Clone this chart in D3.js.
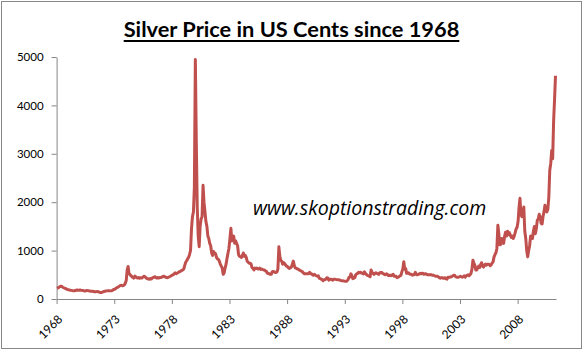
<!DOCTYPE html>
<html>
<head>
<meta charset="utf-8">
<script src="https://cdn.jsdelivr.net/npm/d3@7"></script>
<style>
  body { margin: 0; background: #fff; }
  svg { display: block; }
</style>
</head>
<body>
<svg id="mainsvg" width="584" height="352"></svg>
<script>
const svg = d3.select('#mainsvg');
const width = +svg.attr('width');
const height = +svg.attr('height');
const margin = {top: 57, right: 28, bottom: 53, left: 56.6};

// data: monthly silver price in US cents, one row per year
const years = [1968, 1969, 1970, 1971, 1972, 1973, 1974, 1975, 1976, 1977, 1978, 1979,
  1980, 1981, 1982, 1983, 1984, 1985, 1986, 1987, 1988, 1989, 1990, 1991, 1992, 1993,
  1994, 1995, 1996, 1997, 1998, 1999, 2000, 2001, 2002, 2003, 2004, 2005, 2006, 2007,
  2008, 2009, 2010, 2011];
const cents = [
  [218,228,242,256,265,258,244,232,224,215,203,196],
  [190,186,181,178,173,168,170,176,181,186,183,180],
  [186,181,178,175,170,166,170,175,173,170,165,162],
  [161,158,155,150,148,152,156,150,141,133,135,140],
  [150,156,162,166,168,171,173,170,168,172,181,196],
  [202,216,232,242,252,266,281,286,272,276,292,322],
  [380,600,670,525,505,482,462,444,432,472,460,442],
  [432,442,430,440,432,444,462,470,452,432,420,412],
  [410,422,412,432,442,452,460,442,432,442,432,444],
  [442,452,462,470,462,452,442,440,450,460,470,482],
  [492,502,522,542,522,532,542,562,562,582,592,602],
  [620,700,760,790,830,860,920,1000,1450,1700,1800,2300],
  [4950,3200,1900,1300,1080,1500,1650,1700,2350,2000,1800,1600],
  [1500,1300,1250,1150,1100,950,900,980,950,940,860,830],
  [820,780,720,680,640,510,540,640,720,840,950,1050],
  [1250,1460,1200,1250,1300,1150,1200,1150,1100,920,880,880],
  [860,900,950,880,900,860,780,760,740,740,720,650],
  [630,600,640,630,640,620,620,640,610,620,610,600],
  [600,580,570,530,530,520,510,510,560,570,560,550],
  [550,560,620,1077,880,800,780,720,750,730,700,680],
  [670,640,630,650,660,720,782,690,640,640,620,620],
  [600,590,580,570,550,530,520,520,520,520,530,550],
  [520,520,500,490,510,490,480,470,480,430,420,410],
  [400,380,400,400,410,440,430,390,410,410,400,390],
  [410,410,405,400,400,400,395,385,378,375,375,370],
  [365,365,375,400,450,450,520,480,420,430,440,500],
  [520,530,550,540,550,540,530,520,560,530,510,490],
  [480,470,460,600,550,530,510,530,540,530,520,510],
  [540,550,550,530,520,510,500,520,510,480,490,490],
  [480,500,510,470,470,470,440,450,460,480,490,560],
  [620,770,620,630,530,530,540,520,510,510,490,500],
  [510,550,510,500,510,510,530,520,530,530,510,520],
  [520,510,500,500,500,500,500,490,490,480,470,470],
  [470,460,440,430,440,440,430,430,440,420,410,450],
  [450,450,460,460,480,490,490,460,450,450,450,460],
  [470,460,450,460,480,450,480,490,500,480,500,530],
  [620,803,740,700,600,600,640,680,650,710,750,680],
  [660,700,720,700,720,720,710,690,710,740,770,870],
  [920,960,1050,1524,1350,1120,1130,1250,1200,1150,1300,1380],
  [1300,1400,1330,1370,1320,1270,1300,1250,1300,1370,1450,1480],
  [1600,1900,2080,1750,1700,1750,1900,1400,1250,1000,870,1000],
  [1100,1300,1250,1250,1400,1500,1350,1450,1626,1650,1750,1700],
  [1565,1550,1700,1800,1935,1850,1800,1850,2100,2656,2800,3068],
  [2900,3685,4100,4612]
];
const tickYears = [1968, 1973, 1978, 1983, 1988, 1993, 1998, 2003, 2008];
const yTicks = [0, 1000, 2000, 3000, 4000, 5000];
const axisEnd = new Date(2011, 4, 1);

const data = [];
years.forEach((yr, i) => {
    cents[i].forEach((v, m) => data.push({date: new Date(yr, m, 15), value: v}));
});

// outer frame
svg.append('rect')
    .attr('x', 1.5).attr('y', 1.5)
    .attr('width', width - 4).attr('height', height - 5)
    .attr('fill', 'none').attr('stroke', '#888').attr('stroke-width', 1);

// title
const title = svg.append('text')
    .attr('x', 291.5).attr('y', 37)
    .attr('text-anchor', 'middle')
    .style('font-family', 'Lato, "Open Sans", sans-serif')
    .style('font-weight', 'bold')
    .style('font-size', '21.8px')
    .text('Silver Price in US Cents since 1968');
const tw = title.node().getComputedTextLength();
svg.append('rect')
    .attr('x', 291.5 - tw / 2).attr('y', 40)
    .attr('width', tw).attr('height', 2)
    .attr('fill', '#000');

const xScale = d3.scaleTime()
    .domain([new Date(1968, 0, 1), axisEnd])
    .range([margin.left, width - margin.right]);
const yScale = d3.scaleLinear()
    .domain([0, 5000])
    .range([height - margin.bottom, margin.top]);

// y axis
const yAxis = svg.append('g')
    .attr('transform', `translate(${margin.left},0)`)
    .call(d3.axisLeft(yScale).tickValues(yTicks).tickFormat(d3.format('d'))
        .tickSize(5).tickSizeOuter(0).tickPadding(8));
yAxis.select('.domain').attr('stroke', '#868686');
yAxis.selectAll('.tick line').attr('stroke', '#868686');
yAxis.selectAll('text')
    .style('font-family', 'Lato, sans-serif')
    .style('font-size', '11.5px')
    .attr('fill', '#000');

// x axis
const xAxis = svg.append('g')
    .attr('transform', `translate(0,${height - margin.bottom})`)
    .call(d3.axisBottom(xScale)
        .tickValues(tickYears.map(y => new Date(y, 0, 1)))
        .tickFormat(d3.timeFormat('%Y'))
        .tickSize(5).tickSizeOuter(0));
xAxis.select('.domain').attr('stroke', '#868686');
xAxis.selectAll('.tick line').attr('stroke', '#868686');
xAxis.selectAll('text')
    .style('font-family', 'Lato, sans-serif')
    .style('font-size', '12px')
    .attr('fill', '#000')
    .attr('text-anchor', 'end')
    .attr('transform', 'translate(3,18) rotate(-45)')
    .attr('x', 0).attr('y', 0).attr('dy', '0.35em');

// price line
const line = d3.line()
    .x(d => xScale(d.date))
    .y(d => yScale(d.value));

svg.append('path')
    .datum(data)
    .attr('d', line)
    .attr('fill', 'none')
    .attr('stroke', '#C0504D')
    .attr('stroke-width', 3)
    .attr('stroke-linejoin', 'round');

// watermark
svg.append('text')
    .attr('x', 253).attr('y', 215)
    .style('font-family', '"Open Sans", sans-serif')
    .style('font-style', 'italic')
    .style('font-size', '19.5px')
    .attr('fill', '#000')
    .text('www.skoptionstrading.com');
</script>
</body>
</html>
